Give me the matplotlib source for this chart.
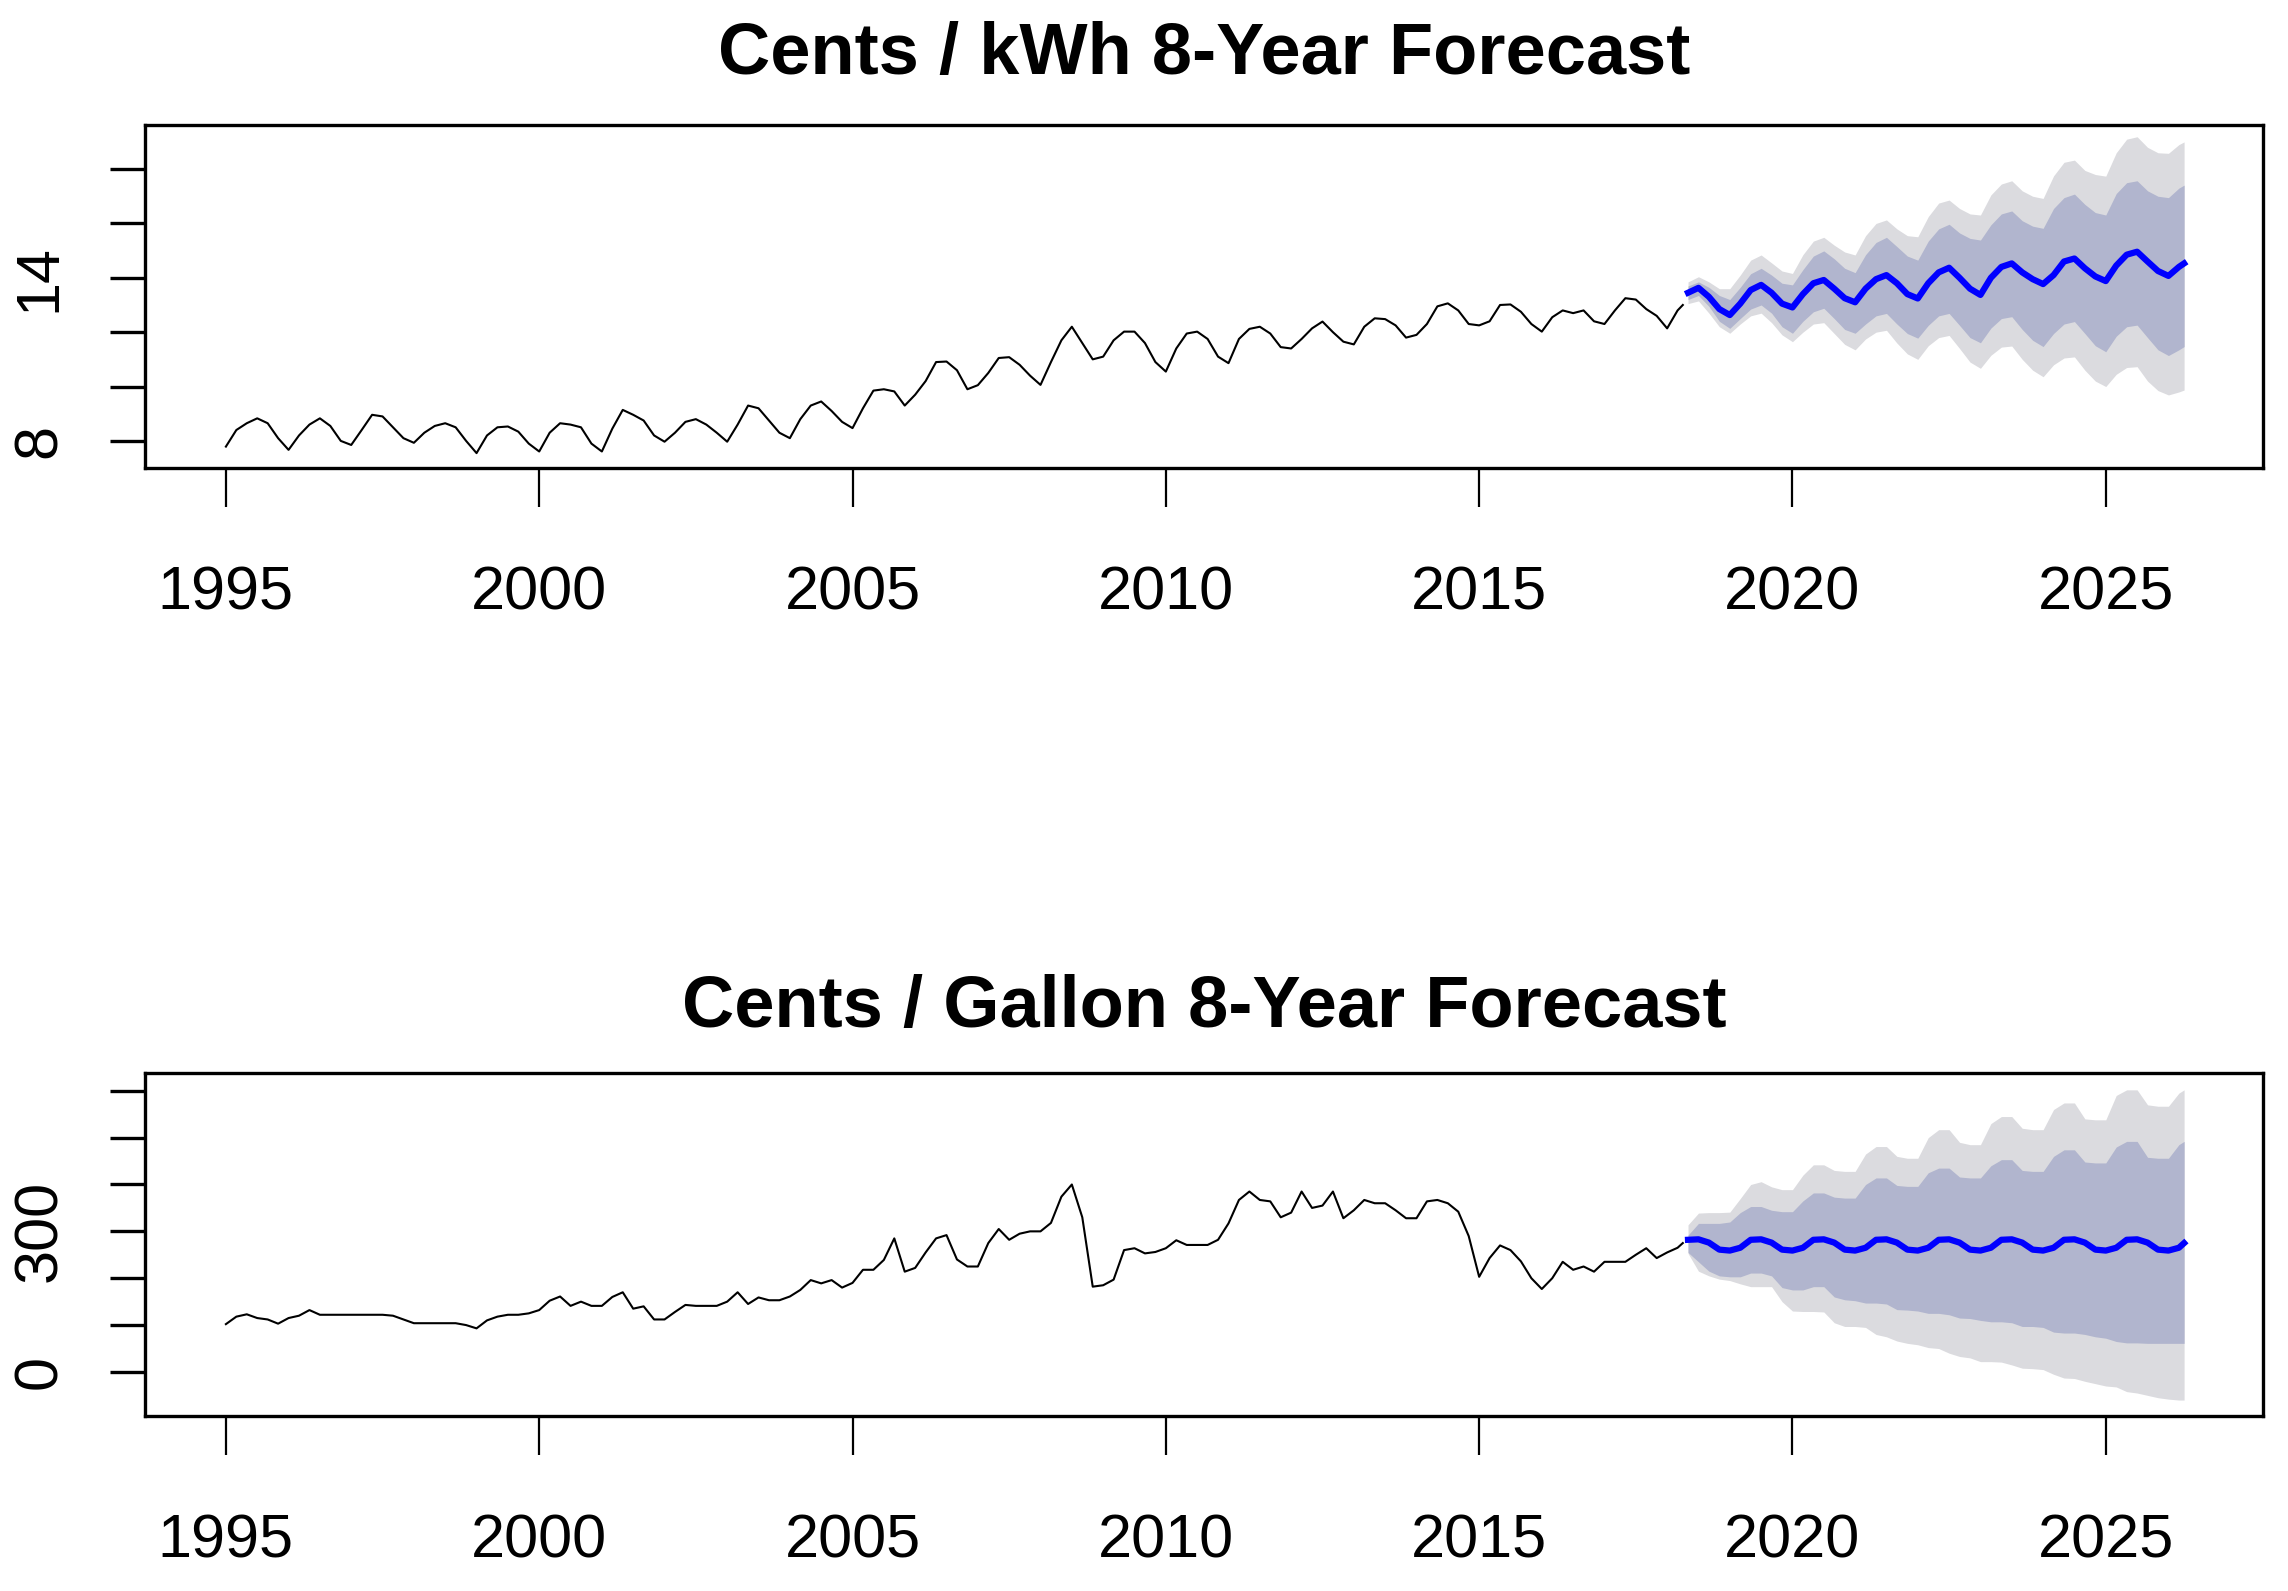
import numpy as np
import matplotlib
matplotlib.use("Agg")
import matplotlib.pyplot as plt
from matplotlib import font_manager as fm

# ---------------- data ----------------
# history: bimonthly samples (Jan, Mar, May, Jul, Sep, Nov) 1995-2017, then Jan/Mar/Apr 2018
hist_months = list(range(0, 280, 2)) + [279]          # months since Jan 1995
fc_months = list(range(280, 376, 2)) + [375]          # May 2018 .. Apr 2026

elec_hist = [
    7.79, 8.40, 8.65, 8.83, 8.65, 8.10,     # 1995
    7.67, 8.20, 8.60, 8.83, 8.55, 8.00,     # 1996
    7.85, 8.40, 8.96, 8.90, 8.50, 8.10,     # 1997
    7.93, 8.30, 8.55, 8.65, 8.50, 8.00,     # 1998
    7.55, 8.20, 8.50, 8.53, 8.34, 7.90,     # 1999
    7.61, 8.30, 8.65, 8.60, 8.50, 7.90,     # 2000
    7.61, 8.45, 9.14, 8.96, 8.75, 8.20,     # 2001
    7.97, 8.30, 8.70, 8.80, 8.60, 8.30,     # 2002
    7.97, 8.60, 9.30, 9.20, 8.75, 8.30,     # 2003
    8.10, 8.80, 9.30, 9.45, 9.10, 8.70,     # 2004
    8.47, 9.20, 9.85, 9.90, 9.82, 9.30,     # 2005
    9.70, 10.20, 10.90, 10.92, 10.60, 9.90,   # 2006
    10.05, 10.50, 11.05, 11.08, 10.80, 10.40,  # 2007
    10.06, 10.90, 11.70, 12.20, 11.60, 11.00,  # 2008
    11.10, 11.70, 12.02, 12.02, 11.60, 10.90,  # 2009
    10.55, 11.40, 11.95, 12.02, 11.75, 11.10,  # 2010
    10.86, 11.75, 12.12, 12.20, 11.95, 11.45,  # 2011
    11.40, 11.75, 12.14, 12.39, 12.00, 11.65,  # 2012
    11.55, 12.20, 12.51, 12.48, 12.25, 11.80,  # 2013
    11.90, 12.30, 12.95, 13.06, 12.80, 12.30,  # 2014
    12.25, 12.40, 13.00, 13.02, 12.75, 12.30,  # 2015
    12.02, 12.55, 12.80, 12.70, 12.80, 12.40,  # 2016
    12.30, 12.80, 13.25, 13.20, 12.85, 12.60,  # 2017
    12.14, 12.80, 13.00,                       # 2018
]

elec_mean = [
    13.45, 13.63, 13.30, 12.85,
    12.63, 13.05, 13.55, 13.74, 13.45, 13.05,
    12.91, 13.40, 13.80, 13.92, 13.60, 13.25,
    13.10, 13.60, 13.95, 14.10, 13.80, 13.40,
    13.24, 13.80, 14.20, 14.37, 14.00, 13.60,
    13.37, 14.00, 14.40, 14.53, 14.20, 13.95,
    13.77, 14.10, 14.60, 14.71, 14.35, 14.05,
    13.88, 14.45, 14.85, 14.96, 14.60, 14.25,
    14.07, 14.40, 14.53,
]
elec_hi80 = [
    13.70, 13.85, 13.65, 13.35,
    13.20, 13.65, 14.15, 14.35, 14.10, 13.80,
    13.74, 14.30, 14.80, 14.99, 14.70, 14.35,
    14.19, 14.85, 15.30, 15.49, 15.15, 14.80,
    14.65, 15.35, 15.80, 15.97, 15.65, 15.45,
    15.39, 15.95, 16.35, 16.46, 16.10, 15.90,
    15.82, 16.55, 16.95, 17.08, 16.70, 16.40,
    16.31, 17.10, 17.50, 17.57, 17.20, 17.00,
    16.95, 17.30, 17.41,
]
elec_hi95 = [
    13.85, 14.04, 13.85, 13.60,
    13.60, 14.10, 14.65, 14.84, 14.55, 14.25,
    14.16, 14.85, 15.35, 15.49, 15.20, 14.95,
    14.84, 15.55, 16.00, 16.13, 15.80, 15.55,
    15.51, 16.25, 16.75, 16.86, 16.55, 16.35,
    16.31, 17.05, 17.45, 17.57, 17.20, 17.00,
    16.92, 17.75, 18.25, 18.33, 17.95, 17.80,
    17.74, 18.60, 19.10, 19.19, 18.80, 18.60,
    18.58, 18.90, 19.00,
]
elec_lo80 = [
    13.20, 13.35, 12.95, 12.40,
    12.14, 12.50, 12.85, 13.00, 12.70, 12.20,
    11.96, 12.40, 12.75, 12.88, 12.50, 12.10,
    11.96, 12.30, 12.60, 12.69, 12.30, 11.95,
    11.78, 12.25, 12.60, 12.69, 12.25, 11.80,
    11.61, 12.15, 12.50, 12.57, 12.10, 11.70,
    11.47, 11.95, 12.30, 12.39, 11.95, 11.50,
    11.28, 11.85, 12.20, 12.26, 11.80, 11.35,
    11.14, 11.35, 11.47,
]
elec_lo95 = [
    13.05, 13.15, 12.70, 12.20,
    11.96, 12.30, 12.60, 12.70, 12.35, 11.90,
    11.65, 12.00, 12.30, 12.35, 11.95, 11.55,
    11.35, 11.75, 12.00, 12.07, 11.60, 11.20,
    11.00, 11.50, 11.80, 11.88, 11.40, 10.90,
    10.67, 11.15, 11.45, 11.49, 11.00, 10.60,
    10.36, 10.80, 11.05, 11.09, 10.60, 10.20,
    10.00, 10.45, 10.70, 10.73, 10.20, 9.85,
    9.69, 9.80, 9.87,
]

gas_hist = [
    102, 118, 123, 115, 112, 103,   # 1995
    115, 120, 132, 122, 122, 122,   # 1996
    122, 122, 122, 122, 120, 112,   # 1997
    104, 104, 104, 104, 104, 100,   # 1998
    93, 110, 118, 122, 122, 125,    # 1999
    132, 152, 161, 141, 150, 141,   # 2000
    141, 160, 170, 135, 140, 112,   # 2001
    112, 128, 143, 141, 141, 141,   # 2002
    150, 170, 145, 159, 153, 153,   # 2003
    161, 175, 196, 189, 196, 180,   # 2004
    190, 218, 218, 239, 285, 214,   # 2005
    222, 255, 285, 292, 240, 225,   # 2006
    225, 275, 305, 282, 295, 300,   # 2007
    300, 318, 374, 400, 330, 182,   # 2008
    185, 197, 260, 264, 253, 256,   # 2009
    264, 281, 271, 271, 271, 282,   # 2010
    317, 367, 385, 367, 364, 330,   # 2011
    340, 385, 350, 355, 385, 328,   # 2012
    345, 367, 360, 360, 345, 328,   # 2013
    328, 364, 367, 360, 342, 290,   # 2014
    203, 243, 270, 260, 236, 200,   # 2015
    177, 200, 235, 218, 225, 214,   # 2016
    235, 235, 235, 250, 264, 243,   # 2017
    255, 265, 275,                  # 2018
]

gas_mean = [
    282, 283, 276, 261,
    259, 265, 282, 283, 276, 261,
    259, 265, 282, 283, 276, 261,
    259, 265, 282, 283, 276, 261,
    259, 265, 282, 283, 276, 261,
    259, 265, 282, 283, 276, 261,
    259, 265, 282, 283, 276, 261,
    259, 265, 282, 283, 276, 261,
    259, 265, 275,
]
gas_hi80 = [
    292, 317, 317, 317,
    320, 340, 353, 353, 345, 342,
    342, 365, 382, 382, 373, 371,
    371, 400, 414, 414, 398, 396,
    396, 425, 435, 435, 416, 414,
    414, 440, 453, 453, 430, 428,
    428, 460, 474, 474, 448, 446,
    446, 480, 492, 492, 458, 456,
    456, 485, 492,
]
gas_hi95 = [
    314, 339, 340, 340,
    341, 370, 400, 406, 395, 389,
    389, 420, 442, 442, 430, 428,
    428, 465, 481, 481, 460, 456,
    456, 500, 517, 517, 490, 485,
    485, 530, 545, 545, 520, 517,
    517, 560, 574, 574, 540, 538,
    538, 590, 602, 602, 570, 567,
    567, 595, 602,
]
gas_lo80 = [
    255, 235, 215, 205,
    203, 203, 211, 211, 205, 180,
    175, 175, 182, 182, 160, 154,
    152, 147, 147, 145, 133, 132,
    130, 125, 125, 122, 115, 114,
    110, 107, 107, 105, 97, 97,
    95, 85, 83, 83, 80, 75,
    72, 65, 62, 62, 61, 61,
    61, 61, 61,
]
gas_lo95 = [
    253, 215, 205, 198,
    195, 188, 182, 182, 182, 150,
    130, 129, 129, 128, 105, 97,
    97, 95, 80, 75, 66, 61,
    58, 52, 50, 40, 33, 30,
    22, 22, 21, 15, 8, 7,
    5, -5, -13, -14, -20, -25,
    -30, -32, -42, -45, -50, -55,
    -58, -60, -60,
]

titles = ["Cents / kWh 8-Year Forecast", "Cents / Gallon 8-Year Forecast"]
x_ticks = [1995, 2000, 2005, 2010, 2015, 2020, 2025]
top_yticks = [8, 10, 12, 14, 16, 18]
top_ylabels = ["8", "", "", "14", "", ""]
bot_yticks = [0, 100, 200, 300, 400, 500, 600]
bot_ylabels = ["0", "", "", "300", "", "", ""]

# ---------------- style ----------------
names = {f.name for f in fm.fontManager.ttflist}
if "Liberation Sans Narrow" in names:
    fam = ["Liberation Sans Narrow", "Liberation Sans", "DejaVu Sans"]
    tick_fs, title_fs = 50, 62
else:
    fam = ["Liberation Sans", "DejaVu Sans"]
    tick_fs, title_fs = 44, 52
plt.rcParams["font.family"] = fam

LIGHT = "#DBDBDF"
DARK = "#B1B5CE"

hist_t = 1995 + np.array(hist_months) / 12.0
fc_t = 1995 + np.array(fc_months) / 12.0

fig = plt.figure(figsize=(22.88, 15.91), dpi=100)
ax1 = fig.add_axes([0.0634, 0.7058, 0.9257, 0.2156])
ax2 = fig.add_axes([0.0634, 0.1100, 0.9257, 0.2156])

panels = [
    (ax1, elec_hist, elec_mean, elec_lo80, elec_hi80, elec_lo95, elec_hi95,
     (7.0, 19.62), top_yticks, top_ylabels, titles[0], 37),
    (ax2, gas_hist, gas_mean, gas_lo80, gas_hi80, gas_lo95, gas_hi95,
     (-94, 638), bot_yticks, bot_ylabels, titles[1], 33),
]

for (ax, hist, mean, lo80, hi80, lo95, hi95, ylim, yt, yl, title, tpad) in panels:
    ax.fill_between(fc_t, lo95, hi95, color=LIGHT, linewidth=0, zorder=1)
    ax.fill_between(fc_t, lo80, hi80, color=DARK, linewidth=0, zorder=2)
    ax.plot(hist_t, hist, color="black", linewidth=1.5, zorder=3)
    ax.plot(fc_t, mean, color="#0000FF", linewidth=4.5, zorder=4)
    ax.set_xlim(1993.71, 2027.51)
    ax.set_ylim(*ylim)
    ax.set_xticks(x_ticks)
    ax.set_xticklabels([str(v) for v in x_ticks])
    ax.set_yticks(yt)
    ax.set_yticklabels(yl)
    for s in ax.spines.values():
        s.set_linewidth(2.4)
        s.set_color("black")
    ax.tick_params(axis="x", direction="out", length=28, width=1.6,
                   pad=42, labelsize=tick_fs)
    ax.tick_params(axis="y", direction="out", length=25, width=2.4,
                   pad=30, labelsize=tick_fs)
    for lbl in ax.get_yticklabels():
        lbl.set_rotation(90)
        lbl.set_va("center")
        lbl.set_ha("right")
    ax.set_title(title, fontsize=title_fs, fontweight="bold", pad=tpad)

fig.savefig("out.png", dpi=100)
